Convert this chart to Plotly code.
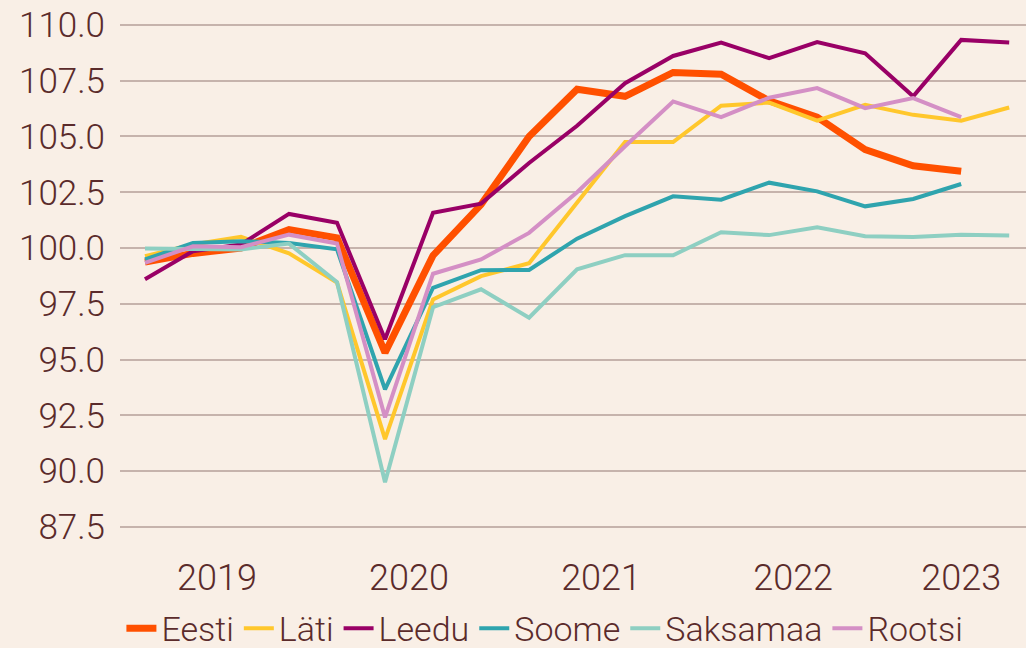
import plotly.graph_objects as go

quarters = ["2019Q1", "2019Q2", "2019Q3", "2019Q4",
            "2020Q1", "2020Q2", "2020Q3", "2020Q4",
            "2021Q1", "2021Q2", "2021Q3", "2021Q4",
            "2022Q1", "2022Q2", "2022Q3", "2022Q4",
            "2023Q1", "2023Q2", "2023Q3"]

eesti = [99.37, 99.76, 100.0, 100.83, 100.46, 95.31, 99.67, 101.95, 105.0, 107.12,
         106.8, 107.87, 107.79, 106.6, 105.87, 104.41, 103.69, 103.44, None]
lati = [99.64, 100.16, 100.5, 99.76, 98.45, 91.44, 97.7, 98.74, 99.32, 102.0,
        104.75, 104.75, 106.38, 106.52, 105.71, 106.42, 105.97, 105.71, 106.3]
leedu = [98.6, 99.86, 100.16, 101.53, 101.13, 95.91, 101.58, 101.99, 103.81, 105.48,
         107.39, 108.61, 109.21, 108.51, 109.23, 108.73, 106.8, 109.33, 109.21]
soome = [99.49, 100.23, 100.31, 100.23, 99.94, 93.67, 98.22, 99.01, 99.02, 100.42,
         101.43, 102.32, 102.17, 102.93, 102.54, 101.87, 102.2, 102.87, None]
saksamaa = [99.98, 99.97, 99.94, 100.2, 98.47, 89.5, 97.35, 98.15, 96.88, 99.05,
            99.68, 99.68, 100.71, 100.58, 100.93, 100.53, 100.49, 100.6, 100.56]
rootsi = [99.34, 100.08, 100.04, 100.6, 100.2, 92.41, 98.85, 99.49, 100.68, 102.5,
          104.56, 106.57, 105.87, 106.74, 107.17, 106.27, 106.72, 105.87, None]

year_ticks = [1.5, 5.5, 9.5, 13.5, 17]
year_labels = ["2019", "2020", "2021", "2022", "2023"]
y_ticks = [87.5, 90.0, 92.5, 95.0, 97.5, 100.0, 102.5, 105.0, 107.5, 110.0]

series = [
    ("Eesti", eesti, "#ff5000", 7),
    ("Läti", lati, "#ffc72c", 4),
    ("Leedu", leedu, "#990066", 4),
    ("Soome", soome, "#2fa4ae", 4),
    ("Saksamaa", saksamaa, "#8ecfc2", 4),
    ("Rootsi", rootsi, "#d48fc5", 4),
]

x = list(range(len(quarters)))
fig = go.Figure()
for name, vals, color, w in series:
    fig.add_trace(go.Scatter(x=x, y=vals, name=name, mode="lines",
                             line=dict(color=color, width=w), connectgaps=False))

text_color = "#5b2b2b"
bg = "#f9efe6"
fig.update_layout(
    width=1026, height=648,
    paper_bgcolor=bg, plot_bgcolor=bg,
    margin=dict(l=120, r=0, t=14, b=107),
    font=dict(family="Roboto", size=34, color=text_color, weight=300),
    showlegend=True,
    legend=dict(orientation="h", x=0.469, xanchor="center", y=0.03, yanchor="middle",
                yref="container", font=dict(size=34, color=text_color, weight=300),
                bgcolor="rgba(0,0,0,0)", itemwidth=30, tracegroupgap=0),
    xaxis=dict(range=[-0.52, 18.35], tickvals=year_ticks, ticktext=year_labels,
               showgrid=False, zeroline=False, showline=False, ticks="",
               ticklabelstandoff=12,
               tickfont=dict(size=36, color=text_color, weight=300)),
    yaxis=dict(range=[86.87, 110.49], tickvals=y_ticks,
               tickformat=".1f", showgrid=True, gridcolor="#c6b3ac", gridwidth=2,
               zeroline=False, showline=False, ticks="", ticklabelstandoff=14,
               tickfont=dict(size=35, color=text_color, weight=300)),
)
fig.write_html("out.html", config={"displayModeBar": False},
               post_script="document.body.style.margin='0';document.body.style.background='" + bg + "';")
